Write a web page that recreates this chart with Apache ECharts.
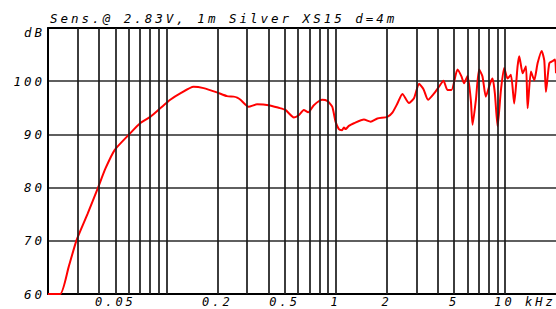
<!DOCTYPE html>
<html>
<head>
<meta charset="utf-8">
<script src="https://cdn.jsdelivr.net/npm/echarts@6/dist/echarts.min.js"></script>
<style>
  html, body { margin: 0; padding: 0; background: #fff; }
  #chart { width: 556px; height: 309px; }
  /* plotter style wide lettering */
  #chart text { letter-spacing: 3px; }
</style>
</head>
<body>
<div id="chart"></div>
<script>
  // frequency in kHz, level in dB
  var freqs = [0.02, 0.0236, 0.0265, 0.0294, 0.0342, 0.0395, 0.0437, 0.0496, 0.0611, 0.070, 0.0803, 0.092,
    0.1054, 0.1208, 0.1448, 0.166, 0.199, 0.228, 0.250, 0.262, 0.274, 0.306, 0.343, 0.402, 0.461, 0.505,
    0.566, 0.605, 0.648, 0.688, 0.743, 0.833, 0.891, 0.954, 0.998, 1.044, 1.09, 1.118, 1.144, 1.196, 1.281,
    1.468, 1.608, 1.762, 2.018, 2.162, 2.314, 2.478, 2.71, 2.90, 3.11, 3.30, 3.51, 3.81, 4.08, 4.33, 4.57,
    4.83, 5.24, 5.53, 5.73, 6.01, 6.28, 6.43, 6.73, 7.03, 7.36, 7.70, 8.17, 8.44, 8.71, 9.04, 9.46, 9.89,
    10.35, 10.83, 11.33, 11.86, 12.13, 12.71, 13.29, 13.60, 14.22, 14.88, 15.58, 16.46, 17.05, 17.45,
    18.26, 19.12, 19.73, 20.0];
  var levels = [60, 60, 65.1, 70, 75, 80, 83.6, 87.1, 90.2, 92.1, 93.3, 94.9,
    96.5, 97.7, 98.96, 98.7, 97.9, 97.2, 97.1, 96.9, 96.5, 95.2, 95.65, 95.5, 95.0, 94.6,
    93.2, 93.6, 94.6, 94.15, 95.5, 96.5, 96.3, 95.2, 92.4, 91.0, 90.8, 91.3, 91.0, 91.6, 92.1,
    92.8, 92.4, 93.0, 93.3, 94.1, 95.8, 97.6, 95.9, 96.8, 99.5, 98.5, 96.5, 97.7, 99.0, 100.1, 98.35,
    98.35, 102.2, 100.9, 99.6, 101.0, 96.5, 91.8, 96.5, 102.2, 100.9, 97.1, 99.6, 100.5, 97.7, 91.5, 98.35, 102.5,
    100.5, 101.2, 95.8, 102.8, 104.7, 101.5, 102.8, 94.9, 101.8, 100.2, 103.4, 105.7, 103.9, 98.0,
    103.4, 103.8, 104.1, 101.5];

  var gridFreqs = [0.03, 0.04, 0.05, 0.06, 0.07, 0.08, 0.09, 0.1,
    0.2, 0.3, 0.4, 0.5, 0.6, 0.7, 0.8, 0.9, 1,
    2, 3, 4, 5, 6, 7, 8, 9, 10];
  var xTickValues = [0.05, 0.2, 0.5, 1, 2, 5, 10];
  var xTickLabels = ['0.05', '0.2', '0.5', '1', '2', '5', '10 kHz'];

  var font = 'DejaVu Sans Mono';

  var points = freqs.map(function (f, i) { return [f, levels[i]]; });

  var lines = gridFreqs.map(function (f) {
    var k = xTickValues.indexOf(f);
    var item = { xAxis: f };
    if (k >= 0) {
      item.label = { show: true, formatter: xTickLabels[k] };
      if (k === xTickValues.length - 1) item.label.padding = [0, 0, 0, 40];
    } else {
      item.label = { show: false };
    }
    return item;
  });

  var chart = echarts.init(document.getElementById('chart'), null, { renderer: 'svg' });

  chart.setOption({
    animation: false,
    title: {
      text: 'Sens.@ 2.83V, 1m Silver XS15 d=4m',
      left: 45,
      top: 7,
      textStyle: { fontFamily: font, fontStyle: 'italic', fontWeight: 'normal', fontSize: 12.5, color: '#000' }
    },
    grid: { left: 48, right: 0, top: 28, bottom: 15 },
    xAxis: [{
      type: 'log',
      logBase: 10,
      min: 0.02,
      max: 20,
      axisLine: { show: true, lineStyle: { color: '#000', width: 2 } },
      axisTick: { show: false },
      axisLabel: { show: false },
      splitLine: { show: false }
    }, {
      type: 'log',
      logBase: 10,
      min: 0.02,
      max: 20,
      position: 'top',
      axisLine: { show: true, lineStyle: { color: '#000', width: 2 } },
      axisTick: { show: false },
      axisLabel: { show: false },
      splitLine: { show: false }
    }],
    yAxis: {
      type: 'value',
      min: 60,
      max: 110,
      interval: 10,
      axisLine: { show: true, lineStyle: { color: '#000', width: 2 } },
      axisTick: { show: false },
      axisLabel: {
        margin: 3,
        fontFamily: font,
        fontStyle: 'italic',
        fontSize: 12.5,
        color: '#000',
        formatter: function (v) { return v === 110 ? '{u|dB}' : String(v); },
        rich: { u: { fontFamily: font, fontStyle: 'italic', fontSize: 12.5, color: '#000', padding: [8, 0, 0, 0] } }
      },
      splitLine: { show: true, lineStyle: { color: '#2a2a2a', width: 1.6 } }
    },
    series: [{
      type: 'line',
      data: [],
      z: 1,
      silent: true,
      markLine: {
        silent: true,
        symbol: 'none',
        animation: false,
        lineStyle: { type: 'solid', color: '#1a1a1a', width: 1.7 },
        label: {
          position: 'start',
          distance: 2,
          fontFamily: font,
          fontStyle: 'italic',
          fontSize: 12,
          lineHeight: 12,
          color: '#000'
        },
        emphasis: { disabled: true },
        data: lines
      }
    }, {
      type: 'line',
      z: 3,
      data: points,
      showSymbol: false,
      smooth: 0.2,
      lineStyle: { color: '#ff0000', width: 2 },
      itemStyle: { color: '#ff0000' }
    }]
  });
</script>
</body>
</html>
